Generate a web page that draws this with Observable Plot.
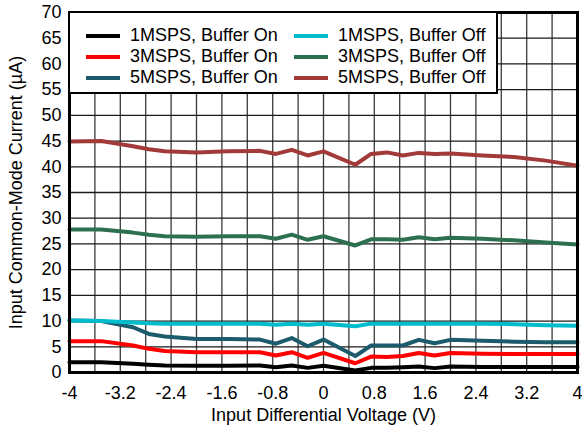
<!DOCTYPE html>
<html>
<head>
<meta charset="utf-8">
<script src="https://cdn.jsdelivr.net/npm/d3@7"></script>
<script src="https://cdn.jsdelivr.net/npm/@observablehq/plot@0.6"></script>
<style>
  html, body { margin: 0; padding: 0; background: #fff; }
  #wrap { position: relative; width: 582px; height: 425px; font-family: "Liberation Sans", Arial, sans-serif; }
  #legend { position: absolute; left: 68px; top: 11px; width: 430px; height: 83px; border: 2px solid #000; background: #fff;
            display: grid; grid-template-columns: 208px 208px; grid-auto-flow: column; grid-template-rows: repeat(3, 21px);
            padding: 12px 0 0 16px; box-sizing: border-box; font-size: 18px; color: #000; }
  .item { display: flex; align-items: center; white-space: nowrap; }
  .sw { width: 34px; height: 4px; margin-right: 10px; flex: none; }
</style>
</head>
<body>
<div id="wrap"><div id="chart"></div><div id="legend"></div></div>
<script>
// Input differential voltage (V)
const xVolt = [-4, -3.5, -3, -2.75, -2.5, -2, -1.5, -1, -0.75, -0.5, -0.25, 0, 0.5, 0.75, 1, 1.25, 1.5, 1.75, 2, 2.5, 3, 3.5, 4];
// Input common-mode current (uA)
const on1MSPS  = [2.0, 2.0, 1.7, 1.5, 1.35, 1.3, 1.3, 1.35, 1.0, 1.35, 0.9, 1.3, 0.4, 0.9, 0.9, 1.0, 1.15, 0.85, 1.15, 1.05, 1.05, 1.05, 1.05];
const on3MSPS  = [6.1, 6.1, 5.25, 4.6, 4.2, 3.95, 3.95, 3.95, 3.3, 3.95, 2.85, 3.8, 1.8, 3.1, 3.0, 3.2, 3.8, 3.3, 3.8, 3.65, 3.6, 3.6, 3.6];
const on5MSPS  = [10.1, 10.0, 8.8, 7.5, 7.0, 6.5, 6.5, 6.4, 5.6, 6.7, 5.1, 6.4, 3.2, 5.25, 5.25, 5.25, 6.35, 5.7, 6.35, 6.15, 6.0, 5.9, 5.9];
const off1MSPS = [10.1, 10.0, 9.7, 9.6, 9.5, 9.5, 9.5, 9.5, 9.3, 9.5, 9.3, 9.5, 9.0, 9.5, 9.5, 9.5, 9.5, 9.5, 9.5, 9.5, 9.4, 9.2, 9.1];
const off3MSPS = [27.8, 27.8, 27.2, 26.8, 26.5, 26.4, 26.5, 26.5, 26.0, 26.8, 25.8, 26.5, 24.7, 25.9, 25.9, 25.8, 26.3, 25.9, 26.2, 26.0, 25.7, 25.3, 24.9];
const off5MSPS = [44.9, 45.0, 44.0, 43.4, 43.0, 42.8, 43.0, 43.1, 42.5, 43.3, 42.2, 43.0, 40.4, 42.5, 42.8, 42.2, 42.7, 42.5, 42.6, 42.2, 41.9, 41.2, 40.2];

const seriesNames = ["1MSPS, Buffer On", "3MSPS, Buffer On", "5MSPS, Buffer On",
                     "1MSPS, Buffer Off", "3MSPS, Buffer Off", "5MSPS, Buffer Off"];
const seriesValues = [on1MSPS, on3MSPS, on5MSPS, off1MSPS, off3MSPS, off5MSPS];
const seriesColors = ["#000000", "#ff0000", "#1b5b6b", "#00bccc", "#2d7050", "#a33a3a"];

const xTicks = [-4, -3.2, -2.4, -1.6, -0.8, 0, 0.8, 1.6, 2.4, 3.2, 4];
const xGrid = [-3.6, -3.2, -2.8, -2.4, -2, -1.6, -1.2, -0.8, -0.4, 0, 0.4, 0.8, 1.2, 1.6, 2, 2.4, 2.8, 3.2, 3.6];
const yTicks = [0, 5, 10, 15, 20, 25, 30, 35, 40, 45, 50, 55, 60, 65, 70];
const yGrid = [5, 10, 15, 20, 25, 30, 35, 40, 45, 50, 55, 60, 65];

const data = seriesNames.flatMap((s, i) => xVolt.map((x, j) => ({series: s, x, y: seriesValues[i][j]})));

const chart = Plot.plot({
  width: 582, height: 425,
  marginLeft: 69, marginRight: 5, marginTop: 12, marginBottom: 53,
  style: {fontFamily: '"Liberation Sans", Arial, sans-serif', fontSize: "18px", color: "#000", background: "#fff"},
  x: {domain: [-4, 4]},
  y: {domain: [0, 70]},
  color: {domain: seriesNames, range: seriesColors},
  marks: [
    Plot.ruleX(xGrid, {stroke: "#3a3a3a", strokeWidth: 1.3}),
    Plot.ruleY(yGrid, {stroke: "#1a1a1a", strokeWidth: 1.3}),
    Plot.line(data, {x: "x", y: "y", z: "series", stroke: "series", strokeWidth: 4, strokeLinejoin: "round"}),
    Plot.frame({stroke: "#000", strokeWidth: 3}),
    Plot.axisX(xTicks, {tickSize: 0, tickPadding: 14, tickFormat: d => String(d),
      label: "Input Differential Voltage (V)", labelAnchor: "center", labelArrow: "none", labelOffset: 48}),
    Plot.axisY(yTicks, {tickSize: 0, tickPadding: 8, tickFormat: d => String(d),
      label: "Input Common-Mode Current (µA)", labelAnchor: "center", labelArrow: "none", labelOffset: 60})
  ]
});
document.getElementById("chart").appendChild(chart);

const legend = document.getElementById("legend");
seriesNames.forEach((s, i) => {
  const it = document.createElement("div");
  it.className = "item";
  it.innerHTML = `<span class="sw" style="background:${seriesColors[i]}"></span><span>${s}</span>`;
  legend.appendChild(it);
});
</script>
</body>
</html>
